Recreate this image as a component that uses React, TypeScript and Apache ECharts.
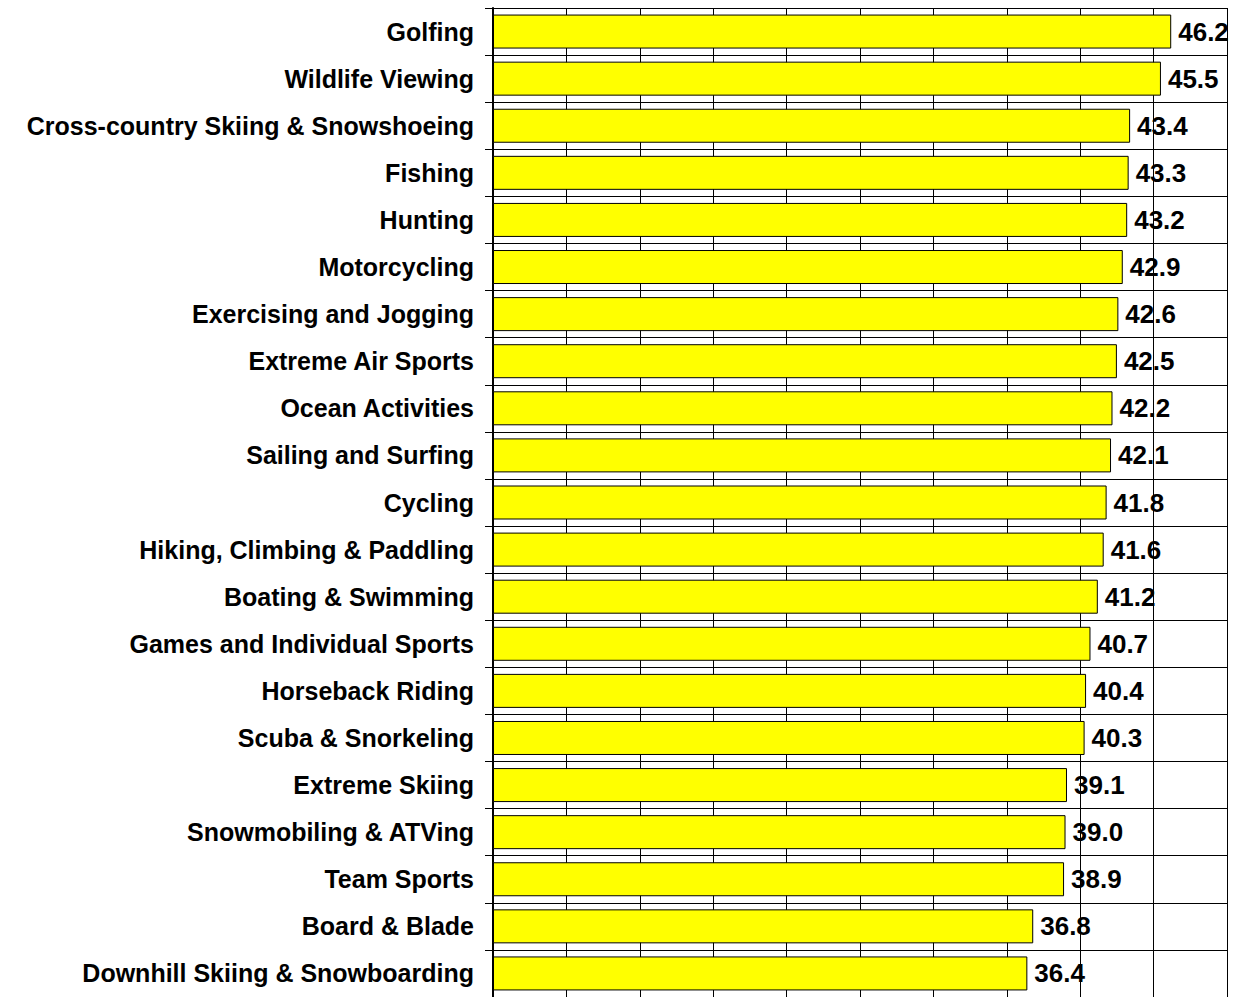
import React, { useEffect, useRef } from "react";
import * as echarts from "echarts";

const categories = [
  "Golfing",
  "Wildlife Viewing",
  "Cross-country Skiing & Snowshoeing",
  "Fishing",
  "Hunting",
  "Motorcycling",
  "Exercising and Jogging",
  "Extreme Air Sports",
  "Ocean Activities",
  "Sailing and Surfing",
  "Cycling",
  "Hiking, Climbing & Paddling",
  "Boating & Swimming",
  "Games and Individual Sports",
  "Horseback Riding",
  "Scuba & Snorkeling",
  "Extreme Skiing",
  "Snowmobiling & ATVing",
  "Team Sports",
  "Board & Blade",
  "Downhill Skiing & Snowboarding",
];

const values = [
  46.2, 45.5, 43.4, 43.3, 43.2, 42.9, 42.6, 42.5, 42.2, 42.1, 41.8, 41.6, 41.2,
  40.7, 40.4, 40.3, 39.1, 39.0, 38.9, 36.8, 36.4,
];

const axisMin = 0;
const axisMax = 50;
const axisStep = 5;

export default function App() {
  const ref = useRef<HTMLDivElement>(null);
  useEffect(() => {
    if (!ref.current) return;
    const chart = echarts.init(ref.current, undefined, { renderer: "svg" });
    chart.setOption({
      animation: false,
      backgroundColor: "#ffffff",
      grid: { left: 493, top: 8, width: 734, height: 991, containLabel: false },
      xAxis: {
        type: "value",
        min: axisMin,
        max: axisMax,
        interval: axisStep,
        axisLabel: { show: false },
        axisLine: { show: false },
        axisTick: { show: false },
        splitLine: { show: true, lineStyle: { color: "#000", width: 1 } },
      },
      yAxis: {
        type: "category",
        data: categories,
        inverse: true,
        axisLine: { show: true, lineStyle: { color: "#000", width: 2 } },
        axisTick: { show: true, inside: false, length: 8, lineStyle: { color: "#000", width: 1 } },
        splitLine: { show: true, lineStyle: { color: "#000", width: 1 } },
        axisLabel: {
          margin: 19,
          color: "#000",
          fontFamily: "'Liberation Sans', Arial, sans-serif",
          fontWeight: "bold",
          fontSize: 25,
        },
      },
      series: [
        {
          type: "bar",
          data: values,
          barWidth: 34,
          itemStyle: { color: "#FFFF00", borderColor: "#000", borderWidth: 1 },
          label: {
            show: true,
            position: "right",
            distance: 7,
            color: "#000",
            fontFamily: "'Liberation Sans', Arial, sans-serif",
            fontWeight: "bold",
            fontSize: 26,
            formatter: (p: any) => Number(p.value).toFixed(1),
          },
        },
      ],
    });
    return () => chart.dispose();
  }, []);
  return (
    <div
      ref={ref}
      style={{ position: "absolute", left: 0, top: 0, width: 1242, height: 997 }}
    />
  );
}
